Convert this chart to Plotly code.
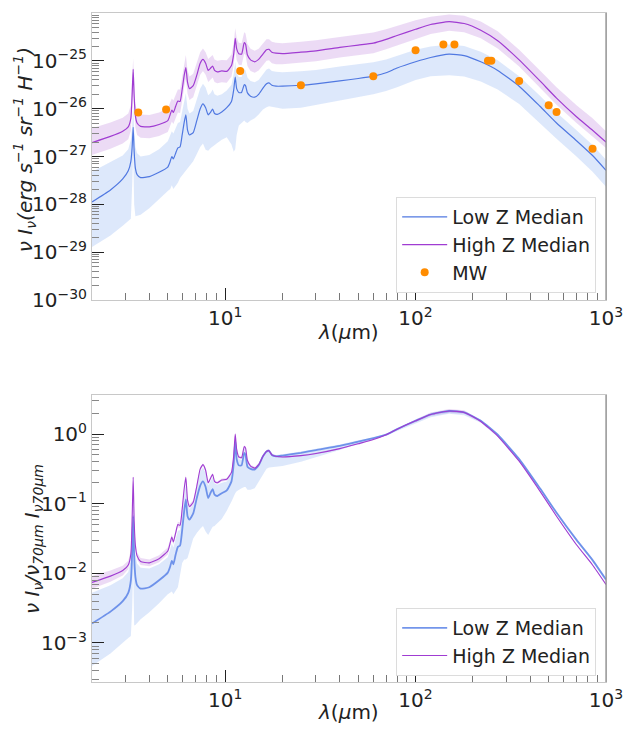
import numpy as np
import plotly.graph_objects as go

# ---------------- data ----------------
wavelength_um = [2.0, 2.5, 2.9, 3.1, 3.2, 3.25, 3.29, 3.33, 3.38, 3.45,
                 3.6, 4.0, 4.5, 5.0, 5.15, 5.25, 5.35, 5.5, 5.65, 5.8,
                 5.95, 6.1, 6.22, 6.35, 6.5, 6.8, 7.1, 7.4, 7.65, 7.9,
                 8.15, 8.4, 8.6, 8.8, 9.1, 9.6, 10.2, 10.8, 11.1, 11.3,
                 11.5, 11.8, 12.2, 12.6, 12.8, 13.1, 13.6, 14.3, 15.0, 15.8,
                 16.5, 17.0, 17.6, 18.5, 20, 25, 30, 40, 50, 60,
                 70, 80, 100, 120, 150, 180, 220, 270, 350, 450,
                 550, 700, 850, 1000]

# top panel: log10 of nu I_nu (erg s^-1 sr^-1 H^-1)
high_med_log = [-26.71, -26.58, -26.47, -26.38, -26.2, -25.7, -25.18, -25.75, -26.15, -26.3,
                -26.37, -26.38, -26.33, -26.25, -26.12, -26.03, -26.08, -25.95, -25.84, -25.85,
                -25.6, -25.3, -25.14, -25.45, -25.58, -25.52, -25.3, -25.05, -24.97, -25.05,
                -25.2, -25.15, -25.11, -25.2, -25.23, -25.21, -25.22, -25.1, -24.85, -24.53,
                -24.75, -24.85, -24.86, -24.62, -24.65, -24.88, -24.98, -25.02, -24.97, -24.86,
                -24.77, -24.76, -24.82, -24.84, -24.85, -24.82, -24.79, -24.72, -24.67, -24.63,
                -24.55, -24.47, -24.34, -24.24, -24.18, -24.22, -24.36, -24.58, -24.98, -25.42,
                -25.78, -26.17, -26.45, -26.70]
high_hi_log = [-26.41, -26.29, -26.19, -26.1, -25.93, -25.45, -24.95, -25.5, -25.9, -26.05,
               -26.12, -26.13, -26.08, -25.99, -25.87, -25.79, -25.83, -25.71, -25.6, -25.6,
               -25.36, -25.06, -24.88, -25.2, -25.33, -25.27, -25.06, -24.82, -24.74, -24.82,
               -24.96, -24.92, -24.88, -24.97, -25.0, -24.98, -24.99, -24.87, -24.62, -24.32,
               -24.52, -24.62, -24.63, -24.4, -24.43, -24.65, -24.75, -24.79, -24.75, -24.64,
               -24.55, -24.55, -24.6, -24.62, -24.63, -24.6, -24.57, -24.5, -24.45, -24.41,
               -24.34, -24.27, -24.15, -24.08, -24.03, -24.06, -24.18, -24.38, -24.77, -25.2,
               -25.55, -25.93, -26.2, -26.47]
high_lo_log = [-26.97, -26.84, -26.73, -26.64, -26.46, -25.95, -25.45, -26.0, -26.4, -26.55,
               -26.61, -26.62, -26.57, -26.49, -26.36, -26.27, -26.32, -26.19, -26.08, -26.09,
               -25.84, -25.54, -25.38, -25.69, -25.82, -25.76, -25.54, -25.29, -25.21, -25.29,
               -25.44, -25.39, -25.35, -25.44, -25.47, -25.45, -25.46, -25.33, -25.08, -24.77,
               -24.98, -25.08, -25.09, -24.85, -24.88, -25.11, -25.21, -25.25, -25.2, -25.09,
               -25.0, -24.99, -25.05, -25.07, -25.07, -25.04, -25.01, -24.93, -24.88, -24.84,
               -24.76, -24.68, -24.55, -24.44, -24.37, -24.40, -24.53, -24.74, -25.12, -25.56,
               -25.92, -26.3, -26.58, -26.82]
low_med_log = [-27.95, -27.70, -27.47, -27.3, -27.1, -26.8, -26.39, -26.9, -27.25, -27.38,
               -27.44, -27.42, -27.33, -27.22, -27.1, -27.0, -27.05, -26.93, -26.82, -26.8,
               -26.55, -26.28, -26.13, -26.45, -26.55, -26.5, -26.25, -26.0, -25.9, -25.98,
               -26.13, -26.07, -26.01, -26.1, -26.12, -26.07, -25.98, -25.85, -25.6, -25.34,
               -25.58, -25.66, -25.66, -25.5, -25.52, -25.67, -25.74, -25.76, -25.7, -25.57,
               -25.48, -25.46, -25.51, -25.53, -25.53, -25.51, -25.48, -25.42, -25.37, -25.32,
               -25.25, -25.15, -25.02, -24.93, -24.86, -24.89, -25.02, -25.2, -25.53, -25.95,
               -26.3, -26.67, -26.98, -27.29]
low_hi_log = [-27.32, -27.12, -26.98, -26.85, -26.65, -26.35, -25.95, -26.45, -26.8, -26.93,
              -27.0, -26.97, -26.85, -26.68, -26.57, -26.47, -26.52, -26.4, -26.3, -26.28,
              -26.05, -25.82, -25.68, -26.0, -26.1, -26.05, -25.82, -25.58, -25.48, -25.56,
              -25.72, -25.67, -25.6, -25.7, -25.73, -25.7, -25.62, -25.5, -25.27, -25.02,
              -25.27, -25.34, -25.34, -25.17, -25.2, -25.35, -25.42, -25.45, -25.4, -25.27,
              -25.18, -25.16, -25.21, -25.23, -25.24, -25.22, -25.19, -25.12, -25.07, -25.03,
              -24.97, -24.9, -24.77, -24.7, -24.66, -24.69, -24.81, -24.99, -25.32, -25.73,
              -26.08, -26.45, -26.76, -27.07]
low_lo_log = [-28.89, -28.65, -28.45, -28.35, -28.3, -27.6, -26.9, -28.0, -28.25, -28.25,
              -28.22, -28.08, -27.9, -27.72, -27.68, -27.6, -27.68, -27.62, -27.55, -27.45,
              -27.38, -27.33, -27.3, -27.25, -27.2, -27.1, -26.95, -26.8, -26.73, -26.86,
              -26.88, -26.82, -26.8, -26.76, -26.72, -26.65, -26.6, -26.75, -26.9, -26.85,
              -26.55, -26.35, -26.3, -26.25, -26.28, -26.3, -26.25, -26.2, -26.12, -26.02,
              -25.97, -25.95, -25.97, -25.98, -26.0, -25.98, -25.93, -25.82, -25.76, -25.7,
              -25.63, -25.55, -25.4, -25.32, -25.3, -25.33, -25.43, -25.6, -25.9, -26.3,
              -26.63, -27.0, -27.32, -27.63]

# MW data points
mw_wavelength = [3.5, 4.9, 12, 25, 60, 100, 140, 160, 240, 250, 350, 500, 550, 850]
mw_log = [-26.08, -26.02, -25.21, -25.51, -25.32, -24.78, -24.66, -24.66, -25.0, -25.0, -25.42, -25.93,
          -26.07, -26.84]

# bottom panel: log10 of normalised nu I_nu / (nu I_nu)_70um
high_norm_med_log = [-2.13, -2.04, -1.96, -1.88, -1.72, -1.2, -0.62, -1.25, -1.6, -1.75,
                     -1.83, -1.85, -1.79, -1.68, -1.56, -1.48, -1.55, -1.42, -1.30, -1.31,
                     -1.08, -0.78, -0.62, -0.95, -1.04, -0.98, -0.75, -0.5, -0.44, -0.52,
                     -0.70, -0.63, -0.58, -0.68, -0.70, -0.66, -0.65, -0.55, -0.3, 0.0,
                     -0.22, -0.33, -0.34, -0.18, -0.2, -0.38, -0.46, -0.49, -0.44, -0.32,
                     -0.25, -0.24, -0.30, -0.32, -0.33, -0.31, -0.28, -0.21, -0.14, -0.08,
                     -0.01, 0.07, 0.19, 0.28, 0.33, 0.31, 0.18, -0.03, -0.39, -0.82,
                     -1.18, -1.59, -1.88, -2.16]
high_norm_hi_log = [-2.04, -1.96, -1.89, -1.82, -1.66, -1.15, -0.58, -1.2, -1.55, -1.7,
                    -1.78, -1.8, -1.74, -1.63, -1.52, -1.44, -1.51, -1.38, -1.26, -1.27,
                    -1.04, -0.75, -0.59, -0.92, -1.01, -0.95, -0.72, -0.48, -0.42, -0.5,
                    -0.68, -0.61, -0.56, -0.66, -0.68, -0.64, -0.63, -0.53, -0.28, 0.02,
                    -0.2, -0.31, -0.32, -0.16, -0.18, -0.36, -0.44, -0.47, -0.42, -0.30,
                    -0.23, -0.22, -0.28, -0.31, -0.32, -0.30, -0.27, -0.20, -0.13, -0.07,
                    0.0, 0.08, 0.21, 0.31, 0.36, 0.34, 0.20, -0.02, -0.38, -0.81,
                    -1.17, -1.58, -1.87, -2.15]
high_norm_lo_log = [-2.22, -2.12, -2.03, -1.94, -1.78, -1.25, -0.66, -1.3, -1.65, -1.8,
                    -1.88, -1.9, -1.84, -1.73, -1.6, -1.52, -1.59, -1.46, -1.34, -1.35,
                    -1.12, -0.81, -0.65, -0.98, -1.07, -1.01, -0.78, -0.52, -0.46, -0.54,
                    -0.72, -0.65, -0.6, -0.7, -0.72, -0.68, -0.67, -0.57, -0.32, -0.02,
                    -0.24, -0.35, -0.36, -0.2, -0.22, -0.4, -0.48, -0.51, -0.46, -0.34,
                    -0.27, -0.26, -0.32, -0.33, -0.34, -0.32, -0.29, -0.22, -0.15, -0.09,
                    -0.02, 0.06, 0.17, 0.26, 0.30, 0.29, 0.17, -0.04, -0.40, -0.83,
                    -1.19, -1.60, -1.89, -2.17]
low_norm_med_log = [-2.72, -2.55, -2.4, -2.28, -2.1, -1.7, -1.18, -1.75, -2.05, -2.17,
                    -2.22, -2.2, -2.1, -1.99, -1.9, -1.82, -1.87, -1.73, -1.62, -1.6,
                    -1.38, -1.1, -0.94, -1.18, -1.23, -1.14, -0.92, -0.74, -0.68, -0.76,
                    -0.92, -0.84, -0.79, -0.87, -0.89, -0.85, -0.81, -0.68, -0.42, -0.1,
                    -0.36, -0.45, -0.45, -0.27, -0.3, -0.47, -0.5, -0.51, -0.45, -0.32,
                    -0.25, -0.24, -0.30, -0.32, -0.31, -0.27, -0.23, -0.17, -0.11, -0.06,
                    -0.01, 0.07, 0.19, 0.28, 0.33, 0.31, 0.19, -0.01, -0.36, -0.78,
                    -1.13, -1.52, -1.81, -2.09]
low_norm_hi_log = [-2.28, -2.17, -2.07, -1.98, -1.8, -1.3, -0.75, -1.38, -1.72, -1.86,
                   -1.92, -1.93, -1.87, -1.77, -1.65, -1.57, -1.63, -1.5, -1.39, -1.38,
                   -1.15, -0.86, -0.7, -1.0, -1.08, -1.01, -0.78, -0.54, -0.48, -0.56,
                   -0.74, -0.67, -0.62, -0.71, -0.73, -0.7, -0.68, -0.57, -0.32, -0.03,
                   -0.25, -0.36, -0.37, -0.2, -0.23, -0.4, -0.47, -0.49, -0.43, -0.3,
                   -0.23, -0.22, -0.28, -0.3, -0.29, -0.25, -0.21, -0.15, -0.09, -0.05,
                   0.0, 0.08, 0.21, 0.30, 0.35, 0.33, 0.21, 0.01, -0.34, -0.76,
                   -1.11, -1.50, -1.79, -2.07]
low_norm_lo_log = [-3.33, -3.15, -3.0, -2.93, -2.9, -2.5, -1.9, -2.75, -2.74, -2.72,
                   -2.66, -2.56, -2.43, -2.3, -2.28, -2.26, -2.3, -2.25, -2.2, -2.0,
                   -1.85, -1.8, -1.8, -1.78, -1.7, -1.5, -1.42, -1.36, -1.32, -1.4,
                   -1.45, -1.38, -1.33, -1.32, -1.28, -1.22, -1.1, -0.97, -0.9, -0.85,
                   -0.82, -0.8, -0.78, -0.76, -0.76, -0.8, -0.8, -0.78, -0.68, -0.58,
                   -0.5, -0.48, -0.47, -0.47, -0.46, -0.4, -0.33, -0.23, -0.14, -0.08,
                   -0.02, 0.04, 0.15, 0.24, 0.29, 0.27, 0.16, -0.04, -0.39, -0.8,
                   -1.15, -1.54, -1.83, -2.12]

x_tick_vals = [10, 100, 1000]
x_tick_text = ["10<sup>1</sup>", "10<sup>2</sup>", "10<sup>3</sup>"]
top_tick_exp = [-30, -29, -28, -27, -26, -25, -24]
bot_tick_exp = [-3, -2, -1, 0]

# ---------------- styling / layout constants ----------------
W, H = 635, 732
L, R, T, B = 92, 20, 13, 50
PW, PH = W - L - R, H - T - B
FONT = "DejaVu Sans"
BLUE = "rgb(80,120,225)"
BLUE_FILL = "rgba(100,149,237,0.22)"
PURPLE = "rgb(160,60,210)"
PURPLE_FILL = "rgba(170,90,210,0.22)"
ORANGE = "rgb(255,140,0)"


def py(ypx):
    return (H - B - ypx) / PH


def px(xpx):
    return (xpx - L) / PW


wl = np.array(wavelength_um, dtype=float)


def band(x, hi, lo, color, xa, ya):
    xs = list(x) + list(x[::-1])
    ys = list(10 ** np.array(hi)) + list((10 ** np.array(lo))[::-1])
    return go.Scatter(x=xs, y=ys, fill="toself", fillcolor=color, line=dict(width=0),
                      mode="lines", hoverinfo="skip", showlegend=False, xaxis=xa, yaxis=ya)


fig = go.Figure()

# top panel
fig.add_trace(band(wl, low_hi_log, low_lo_log, BLUE_FILL, "x", "y"))
fig.add_trace(band(wl, high_hi_log, high_lo_log, PURPLE_FILL, "x", "y"))
fig.add_trace(go.Scatter(x=wl, y=10 ** np.array(low_med_log), mode="lines", name="Low Z Median",
                         line=dict(color=BLUE, width=1.2, shape="spline", smoothing=0.5),
                         xaxis="x", yaxis="y", legend="legend"))
fig.add_trace(go.Scatter(x=wl, y=10 ** np.array(high_med_log), mode="lines", name="High Z Median",
                         line=dict(color=PURPLE, width=1.2, shape="spline", smoothing=0.5),
                         xaxis="x", yaxis="y", legend="legend"))
fig.add_trace(go.Scatter(x=mw_wavelength, y=10 ** np.array(mw_log), mode="markers", name="MW",
                         marker=dict(color=ORANGE, size=8), xaxis="x", yaxis="y", legend="legend"))

# bottom panel
fig.add_trace(band(wl, low_norm_hi_log, low_norm_lo_log, BLUE_FILL, "x2", "y2"))
fig.add_trace(band(wl, high_norm_hi_log, high_norm_lo_log, PURPLE_FILL, "x2", "y2"))
fig.add_trace(go.Scatter(x=wl, y=10 ** np.array(low_norm_med_log), mode="lines", name="Low Z Median",
                         line=dict(color="rgba(90,130,230,0.85)", width=1.8, shape="spline", smoothing=0.5),
                         xaxis="x2", yaxis="y2", legend="legend2"))
fig.add_trace(go.Scatter(x=wl, y=10 ** np.array(high_norm_med_log), mode="lines", name="High Z Median",
                         line=dict(color=PURPLE, width=1.1, shape="spline", smoothing=0.5),
                         xaxis="x2", yaxis="y2", legend="legend2"))

x_minor = [k * 10 ** n for n in range(0, 3) for k in range(2, 10) if 2 <= k * 10 ** n < 1000]
top_minor = [k * 10.0 ** n for n in range(-30, -24) for k in range(2, 10)]
bot_minor = [k * 10.0 ** n for n in range(-4, 1) for k in range(2, 10) if 2.7e-4 < k * 10.0 ** n < 3.7]

top_dom = [py(300), 1.0]
bot_dom = [0.0, py(395)]

axis_common = dict(type="log", showgrid=False, zeroline=False, showline=True, linecolor="#c8c8c8",
                   linewidth=1, mirror=True, ticks="inside", ticklen=12, tickwidth=1.3,
                   tickcolor="#222222", tickfont=dict(family=FONT, size=20, color="#222222"))

fig.update_layout(
    width=W, height=H, margin=dict(l=L, r=R, t=T, b=B),
    paper_bgcolor="white", plot_bgcolor="white",
    font=dict(family=FONT, size=19, color="#222222"),
    xaxis=dict(axis_common, domain=[0, 1], anchor="y", range=[np.log10(2), 3],
               tickvals=x_tick_vals, ticktext=x_tick_text,
               minor=dict(ticks="inside", ticklen=7, tickwidth=1, tickcolor="#777777", tickvals=x_minor)),
    yaxis=dict(axis_common, domain=top_dom, anchor="x", range=[-30, -24],
               tickvals=[10.0 ** e for e in top_tick_exp],
               ticktext=[f"10<sup>\u2212{-e}</sup>" for e in top_tick_exp],
               minor=dict(ticks="inside", ticklen=7, tickwidth=1, tickcolor="#888888", tickvals=top_minor)),
    xaxis2=dict(axis_common, domain=[0, 1], anchor="y2", range=[np.log10(2), 3],
                tickvals=x_tick_vals, ticktext=x_tick_text,
                minor=dict(ticks="inside", ticklen=7, tickwidth=1, tickcolor="#777777", tickvals=x_minor)),
    yaxis2=dict(axis_common, domain=bot_dom, anchor="x2", range=[-3.56, 0.56],
                tickvals=[10.0 ** e for e in bot_tick_exp],
                ticktext=[("10<sup>0</sup>" if e == 0 else f"10<sup>\u2212{-e}</sup>") for e in bot_tick_exp],
                minor=dict(ticks="inside", ticklen=7, tickwidth=1, tickcolor="#888888", tickvals=bot_minor)),
    legend=dict(x=px(605), xanchor="right", y=py(197), yanchor="top", bgcolor="white",
                bordercolor="#dcdcdc", borderwidth=1, font=dict(family=FONT, size=19, color="#222222"),
                tracegroupgap=0, itemwidth=45),
    legend2=dict(x=px(605), xanchor="right", y=py(608), yanchor="top", bgcolor="white",
                 bordercolor="#dcdcdc", borderwidth=1, font=dict(family=FONT, size=19, color="#222222"),
                 tracegroupgap=0, itemwidth=45),
    showlegend=True,
)

# darker right-hand frame lines, as in the reference
for ya in ("y", "y2"):
    fig.add_shape(type="line", xref="x domain" if ya == "y" else "x2 domain", yref=f"{ya} domain",
                  x0=1, x1=1, y0=0, y1=1, line=dict(color="#8a8a8a", width=1.2))

ann_font = dict(family=FONT, size=20, color="#222222")
fig.add_annotation(text="<i>ν I<sub>ν</sub>(erg s<sup>−1</sup> sr<sup>−1</sup> H<sup>−1</sup>)</i>",
                   xref="paper", yref="paper", x=px(24), y=py(150), textangle=-90,
                   showarrow=False, font=ann_font, xanchor="center", yanchor="middle")
fig.add_annotation(text="<i>ν I<sub>ν</sub>/ν<sub>70μm</sub> I<sub>ν70μm</sub></i>",
                   xref="paper", yref="paper", x=px(32), y=py(539), textangle=-90,
                   showarrow=False, font=ann_font, xanchor="center", yanchor="middle")
fig.add_annotation(text="<i>λ</i>(<i>μ</i>m)", xref="paper", yref="paper", x=px(353), y=py(332),
                   showarrow=False, font=ann_font, xanchor="center", yanchor="middle")
fig.add_annotation(text="<i>λ</i>(<i>μ</i>m)", xref="paper", yref="paper", x=px(353), y=py(712),
                   showarrow=False, font=ann_font, xanchor="center", yanchor="middle")

fig.write_html("out.html")
